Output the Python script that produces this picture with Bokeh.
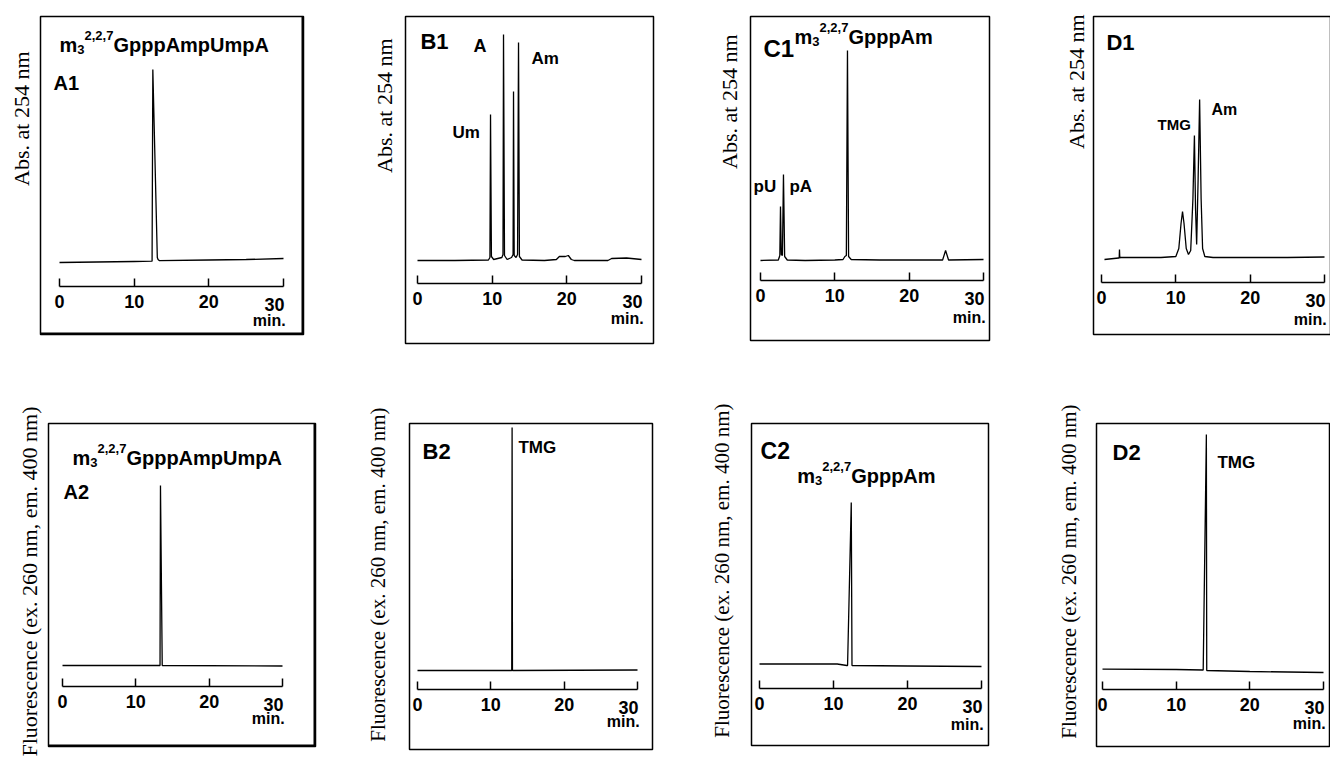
from bokeh.plotting import figure
from bokeh.layouts import row, column
from bokeh.models import LinearAxis, FixedTicker, Range1d, Title, Span
from bokeh.core.properties import value
from bokeh.embed import file_html
from bokeh.resources import INLINE

# ---------------- data (time in min, signal in arbitrary units, baseline = 0) ----------------
TICKS = [0, 10, 20, 30]
TICK_LABELS = ["0", "10", "20", "30"]

A1_t = [0, 5, 10, 12.4, 12.5, 13.1, 13.2, 13.4, 20, 25, 30]
A1_y = [-1, -0.5, 0, 0.3, 192, 4, 2, 0.8, 1.5, 2, 3]

B1_t = [0, 5, 9.5, 9.7, 9.78, 9.9, 10.2, 11.3, 11.45, 11.52, 11.65, 12.0, 12.6, 12.8, 12.86,
        12.95, 13.2, 13.4, 13.53, 13.65, 14.0, 17, 18.6, 19.0, 19.8, 20.2, 20.6, 21, 25.5, 26, 28, 30]
B1_y = [0, 0, 0.5, 3, 146, 4, 1, 3, 6, 226, 5, 1, 3, 6, 169,
        5, 3, 6, 218, 4, 0.5, 0, 1, 4, 4, 5, 1, 0, 0, 2, 2.5, 1]

C1_t = [0, 2.4, 2.6, 2.69, 2.8, 2.95, 3.09, 3.25, 3.6, 6, 10, 11.1, 11.35, 11.55, 11.7, 11.85,
        12.2, 16, 24.5, 24.9, 25.3, 30]
C1_y = [0, 0.5, 5, 54, 6, 5, 86, 4, 0.5, 0, 0.5, 1, 4, 5, 210, 4,
        1, 0.5, 0.5, 10, 0.5, 1]

D1_t = [0.4, 2.3, 2.38, 2.42, 2.46, 2.55, 8, 10.0, 10.4, 10.7, 10.9, 11.1, 11.4, 11.7, 12.0,
        12.3, 12.5, 12.65, 12.8, 13.0, 13.2, 13.4, 13.6, 13.9, 15, 20, 25, 30]
D1_y = [-1, 0.5, 0.5, 9, 0.5, 1, 1, 2, 10, 35, 47, 35, 10, 4, 8,
        60, 123, 50, 14, 80, 159, 60, 10, 2, 1, 1, 1, 1.5]

A2_t = [0, 13.3, 13.36, 13.6, 30]
A2_y = [0, 0, 180, 0, -0.5]

B2_t = [0, 12.85, 12.9, 12.95, 30]
B2_y = [0, 0, 243, 0, 0.5]

C2_t = [0, 10.5, 11.8, 11.9, 12.4, 12.5, 20, 30]
C2_y = [0.5, 0.5, -1, -1, 162, -1, -1.5, -2]

D2_t = [0, 10, 13.6, 13.67, 14.1, 14.15, 20, 30]
D2_y = [0.3, 0, -0.5, -0.5, 235, -1, -2, -3]

ABS_LABEL = "Abs. at 254 nm"
FLU_LABEL = "Fluorescence (ex. 260 nm, em. 400 nm)"

# ---------------- styling helpers ----------------
SANS = value("Liberation Sans")
SERIF = "Liberation Serif"
W = {'m': 889, '3': 556, '2': 556, ',': 278, '7': 556, 'G': 778, 'p': 611, 'A': 722, 'U': 722}


def formula(p, x, y, tail, size=20, small=13):
    pieces = [("m", "base"), ("3", "sub"), ("2,2,7", "sup"), (tail, "base")]
    off = 0.0
    for txt, kind in pieces:
        fs = size if kind == "base" else small
        dy = 0 if kind == "base" else (5 if kind == "sub" else -9)
        p.text(x=[x], y=[y], text=[txt], x_offset=off, y_offset=dy,
               text_font=SANS, text_font_style="bold", text_font_size=f"{fs}px",
               text_baseline="middle", text_align="left", text_color="black")
        off += sum(W.get(c, 600) for c in txt) / 1000 * fs


def panel(t, y, s):
    p = figure(frame_width=s["fw"], frame_height=s["fh"],
               min_border_left=s["mbl"], min_border_right=s["mbr"],
               min_border_top=s["mbt"], min_border_bottom=s["mbb"],
               x_range=Range1d(*s["xr"]), y_range=Range1d(*s["yr"]),
               x_axis_location=None, y_axis_location=None,
               toolbar_location=None, output_backend="svg", title=None)
    p.grid.visible = False
    p.outline_line_color = "black"
    p.outline_line_width = 1.5
    p.background_fill_color = "white"
    p.border_fill_color = "white"

    # scale bar: last label ("30") is right-aligned on its tick, drawn separately below
    overrides = {k: v for k, v in zip(TICKS, TICK_LABELS)}
    overrides[TICKS[-1]] = ""
    ax = LinearAxis(fixed_location=s["ay"], ticker=FixedTicker(ticks=TICKS), bounds=(0, 30),
                    major_label_overrides=overrides,
                    major_tick_in=8, major_tick_out=0, minor_tick_line_color=None,
                    axis_line_width=1.5, major_tick_line_width=1.5,
                    major_label_standoff=8,
                    major_label_text_font="Liberation Sans", major_label_text_font_style="bold",
                    major_label_text_font_size="18px", major_label_text_color="black")
    p.add_layout(ax, "below")

    p.text(x=[TICKS[-1] + 0.15], y=[s["ay"] - 18], text=[TICK_LABELS[-1]], text_font=SANS,
           text_font_style="bold", text_font_size="18px", text_align="right",
           text_baseline="middle", text_color="black")
    p.text(x=[30.3], y=[s["miny"]], text=["min."], text_font=SANS, text_font_style="bold",
           text_font_size="16px", text_align="right", text_baseline="middle", text_color="black")

    p.line(t, y, line_color="black", line_width=1.3)

    for txt, lx, ly, fs in s["labels"]:
        p.text(x=[lx], y=[ly], text=[txt], text_font=SANS, text_font_style="bold",
               text_font_size=f"{fs}px", text_align="left", text_baseline="middle",
               text_color="black")
    if s.get("formula"):
        fx, fy, tail = s["formula"]
        formula(p, fx, fy, tail)

    ttl = Title(text=s["ylab"], align="right", offset=s["yoff"], standoff=s["ystand"],
                text_font=SERIF, text_font_size=f"{s['ysize']}px", text_font_style="normal",
                text_color="black")
    p.add_layout(ttl, "left")

    if s.get("shadow"):
        p.add_layout(Span(location=s["xr"][1], dimension="height", line_width=4, line_color="black"))
        p.add_layout(Span(location=s["yr"][0], dimension="width", line_width=4, line_color="black"))
    return p


SPEC = {
    "A1": dict(mbl=39, fw=263, mbr=54, mbt=15, fh=318, mbb=62, xr=(-2.545, 32.68), yr=(-73, 245),
               ay=-25, miny=-59, ylab=ABS_LABEL, yoff=35, ystand=13, ysize=22, shadow=True,
               labels=[("A1", -0.8, 179, 20)], formula=(0.0, 217, "GpppAmpUmpA")),
    "B1": dict(mbl=48, fw=248, mbr=53, mbt=16, fh=327, mbb=52, xr=(-1.607, 31.607), yr=(-83, 244),
               ay=-23, miny=-58, ylab=ABS_LABEL, yoff=22, ystand=18, ysize=22,
               labels=[("B1", 0.4, 219, 22), ("A", 7.5, 215, 18), ("Um", 4.69, 128, 17),
                       ("Am", 15.27, 202, 17)]),
    "C1": dict(mbl=44, fw=239, mbr=64, mbt=14, fh=324, mbb=57, xr=(-1.345, 30.807), yr=(-80, 244),
               ay=-20, miny=-57, ylab=ABS_LABEL, yoff=18, ystand=17, ysize=22,
               labels=[("C1", 0.4, 212, 24), ("pU", -0.94, 74, 17), ("pA", 3.9, 74, 17)],
               formula=(4.57, 224, "GpppAm")),
    "D1": dict(mbl=40, fw=238, mbr=0, mbt=12, fh=318, mbb=65, xr=(-1.076, 30.94), yr=(-76, 242),
               ay=-24, miny=-61, ylab=ABS_LABEL, yoff=-2, ystand=10, ysize=22,
               labels=[("D1", 0.67, 216, 22), ("TMG", 7.53, 134, 15), ("Am", 14.8, 149, 16)]),
    "A2": dict(mbl=48, fw=267, mbr=28, mbt=27, fh=323, mbb=13, xr=(-1.909, 34.5), yr=(-81, 242),
               ay=-21, miny=-53, ylab=FLU_LABEL, yoff=-17, ystand=13, ysize=22, shadow=True,
               labels=[("A2", 0.14, 174, 20)], formula=(1.36, 208, "GpppAmpUmpA")),
    "B2": dict(mbl=66, fw=243, mbr=38, mbt=26, fh=326, mbb=11, xr=(-1.091, 32.045), yr=(-79, 247),
               ay=-19, miny=-51, ylab=FLU_LABEL, yoff=-16, ystand=39, ysize=21,
               labels=[("B2", 0.68, 219, 22), ("TMG", 13.77, 223, 17)]),
    "C2": dict(mbl=61, fw=237, mbr=48, mbt=28, fh=322, mbb=13, xr=(-1.081, 30.946), yr=(-81, 241),
               ay=-24, miny=-60, ylab=FLU_LABEL, yoff=-20, ystand=35, ysize=21,
               labels=[("C2", 0.14, 214, 23)], formula=(5.1, 189, "GpppAm")),
    "D2": dict(mbl=60, fw=234, mbr=0, mbt=27, fh=323, mbb=13, xr=(-0.814, 30.95), yr=(-77, 246),
               ay=-20, miny=-54, ylab=FLU_LABEL, yoff=-19, ystand=31, ysize=21,
               labels=[("D2", 1.36, 217, 22), ("TMG", 15.6, 207, 17)]),
}

pA1 = panel(A1_t, A1_y, SPEC["A1"])
pB1 = panel(B1_t, B1_y, SPEC["B1"])
pC1 = panel(C1_t, C1_y, SPEC["C1"])
pD1 = panel(D1_t, D1_y, SPEC["D1"])
pA2 = panel(A2_t, A2_y, SPEC["A2"])
pB2 = panel(B2_t, B2_y, SPEC["B2"])
pC2 = panel(C2_t, C2_y, SPEC["C2"])
pD2 = panel(D2_t, D2_y, SPEC["D2"])

layout = column(row(pA1, pB1, pC1, pD1), row(pA2, pB2, pC2, pD2))
open("out.html", "w").write(file_html(layout, INLINE))
